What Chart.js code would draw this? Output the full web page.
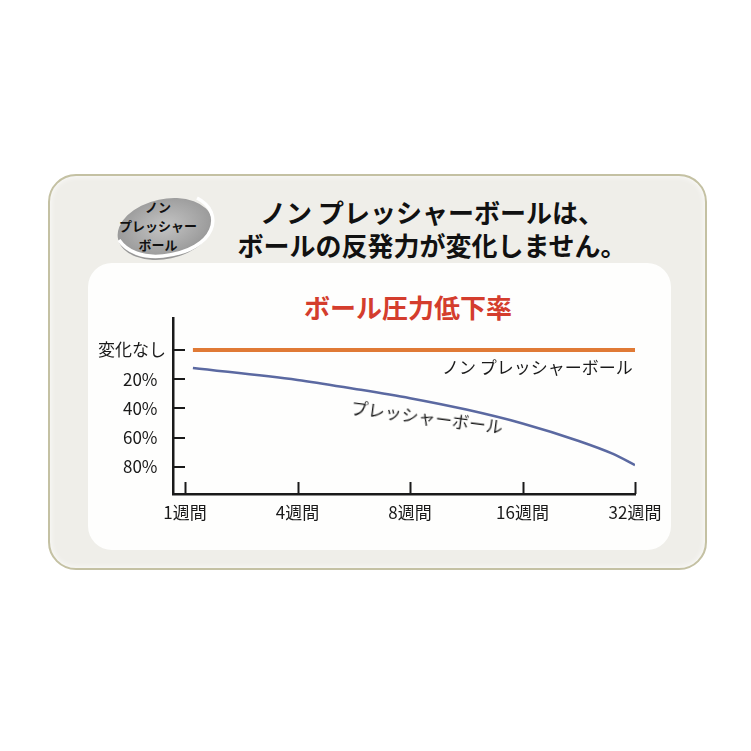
<!DOCTYPE html>
<html lang="ja">
<head>
<meta charset="utf-8">
<title>ボール圧力低下率</title>
<script src="https://cdn.jsdelivr.net/npm/chart.js@4/dist/chart.umd.min.js"></script>
<style>
  html, body { margin: 0; padding: 0; background: #fff; }
  body { width: 751px; height: 751px; position: relative; overflow: hidden;
         font-family: "Noto Sans CJK JP", "Noto Sans", sans-serif; color: #1a1a1a; }
  .card { position: absolute; left: 48px; top: 174px; width: 659px; height: 396px;
          box-sizing: border-box; border: 2px solid #c4c1a3; border-radius: 28px;
          background: #efeee9; box-shadow: inset 0 0 6px rgba(255,255,255,0.9); }
  .panel { position: absolute; left: 88px; top: 263px; width: 583px; height: 287px;
           background: #fefefd; border-radius: 24px; }
  .head { position: absolute; left: 132px; top: 195px; width: 600px; text-align: center;
          font-weight: bold; font-size: 26px; line-height: 33px; color: #111; }
  .title { position: absolute; left: 208px; top: 290px; width: 400px; text-align: center;
           font-weight: bold; font-size: 26px; line-height: 34px; color: #d43d2d; }
  .note { position: absolute; font-size: 17px; line-height: 20px; color: #1a1a1a; white-space: nowrap; }
  .logo-text { position: absolute; left: 98px; top: 197px; width: 120px; text-align: center;
               font-weight: bold; font-size: 13px; line-height: 19px; color: #111; }
  #wrap { position: absolute; left: 0; top: 0; width: 751px; height: 751px; }
</style>
</head>
<body>
<div class="card"></div>
<div class="panel"></div>

<svg style="position:absolute;left:105px;top:190px" width="120" height="80">
  <defs>
    <radialGradient id="lg" cx="0.5" cy="0.45" r="0.6">
      <stop offset="0" stop-color="#c4c4c4"/>
      <stop offset="1" stop-color="#929292"/>
    </radialGradient>
  </defs>
  <ellipse cx="60" cy="39" rx="48" ry="30" transform="rotate(-12 60 39)" fill="url(#lg)"/>
  <path d="M92,8 C120,22 112,60 58,66 C38,68 22,62 14,50" fill="none" stroke="#fff" stroke-width="3.5"/>
</svg>
<div class="logo-text">ノン<br>プレッシャー<br>ボール</div>

<div class="head">ノン プレッシャーボールは、<br>ボールの反発力が変化しません。</div>
<div class="title">ボール圧力低下率</div>

<div id="wrap"><canvas id="chart"></canvas></div>

<div class="note" style="left:442px; top:357px;">ノン プレッシャーボール</div>
<div class="note" style="left:427px; top:417px; transform: translate(-50%,-50%) rotate(7.5deg);">プレッシャーボール</div>

<script>
// categories (x index) and labels
const weekLabels = ['1週間', '4週間', '8週間', '16週間', '32週間'];
const weekPos = [0, 1, 2, 3, 4];

// y ticks: pressure drop in %
const dropTicks = [0, 20, 40, 60, 80];
const dropLabels = ['変化なし', '20%\u2002', '40%\u2002', '60%\u2002', '80%\u2002'];

// non-pressure ball: no change
const nonPressureX = [0.07, 4];
const nonPressureY = [0, 0];

// pressure ball
const pressureX = [0.07, 1, 1.5, 2, 2.5, 3, 3.5, 3.8, 4];
const pressureY = [12.3, 20.5, 26.5, 33.0, 40.8, 50.3, 62.3, 71.0, 78.8];

const toPoints = (xs, ys) => xs.map((x, i) => ({ x: x, y: ys[i] }));

// draws short inward ticks on both axes
const innerTicks = {
  id: 'innerTicks',
  afterDraw(chart) {
    const { ctx, chartArea, scales } = chart;
    ctx.save();
    ctx.strokeStyle = '#1a1a1a';
    ctx.lineWidth = 2;
    weekPos.forEach(v => {
      const x = Math.round(scales.x.getPixelForValue(v)) + 0.5;
      ctx.beginPath();
      ctx.moveTo(x, chartArea.bottom);
      ctx.lineTo(x, chartArea.bottom - 12);
      ctx.stroke();
    });
    dropTicks.forEach(v => {
      const y = Math.round(scales.y.getPixelForValue(v));
      ctx.beginPath();
      ctx.moveTo(chartArea.left, y);
      ctx.lineTo(chartArea.left + 12, y);
      ctx.stroke();
    });
    ctx.restore();
  }
};

const tickFont = { family: '"Noto Sans CJK JP", sans-serif', size: 17 };

new Chart(document.getElementById('chart'), {
  type: 'line',
  data: {
    datasets: [
      {
        label: 'ノン プレッシャーボール',
        data: toPoints(nonPressureX, nonPressureY),
        borderColor: '#e07a35',
        borderWidth: 4,
        pointRadius: 0
      },
      {
        label: 'プレッシャーボール',
        data: toPoints(pressureX, pressureY),
        borderColor: '#5b69a1',
        borderWidth: 2.5,
        pointRadius: 0,
        cubicInterpolationMode: 'monotone'
      }
    ]
  },
  options: {
    responsive: true,
    maintainAspectRatio: false,
    animation: false,
    events: [],
    layout: { padding: { left: 0, right: 116, top: 318, bottom: 0 } },
    scales: {
      x: {
        type: 'linear',
        min: -0.107,
        max: 4,
        afterBuildTicks: s => { s.ticks = weekPos.map(v => ({ value: v })); },
        afterFit: s => { s.height = 257; },
        ticks: {
          callback: v => weekLabels[weekPos.indexOf(v)],
          color: '#1a1a1a',
          font: tickFont,
          padding: 8,
          maxRotation: 0,
          autoSkip: false
        },
        grid: { drawOnChartArea: false, drawTicks: false },
        border: { color: '#1a1a1a', width: 2.5 }
      },
      y: {
        type: 'linear',
        reverse: true,
        min: -21.9,
        max: 98.6,
        afterBuildTicks: s => { s.ticks = dropTicks.map(v => ({ value: v })); },
        afterFit: s => { s.width = 173; },
        ticks: {
          callback: v => dropLabels[dropTicks.indexOf(v)],
          color: '#1a1a1a',
          font: tickFont,
          padding: 7
        },
        grid: { drawOnChartArea: false, drawTicks: false },
        border: { color: '#1a1a1a', width: 2.5 }
      }
    },
    plugins: {
      legend: { display: false },
      tooltip: { enabled: false }
    }
  },
  plugins: [innerTicks]
});
</script>
</body>
</html>
